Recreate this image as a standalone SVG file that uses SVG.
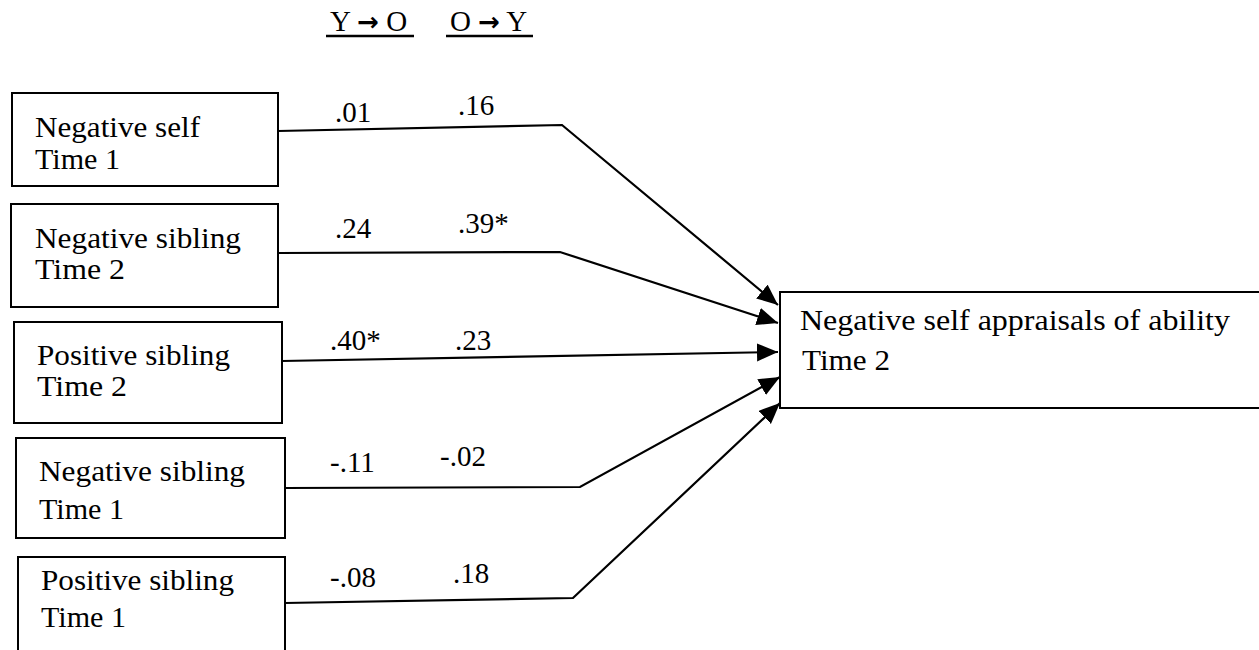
<svg xmlns="http://www.w3.org/2000/svg" width="1259" height="650" viewBox="0 0 1259 650">
<style>
.box{fill:#fff;stroke:#000;stroke-width:2}
.t{font-family:"Liberation Serif","Times New Roman",serif;font-size:29px;fill:#000}
.h{font-family:"Liberation Serif","Times New Roman",serif;font-size:29px;fill:#000;white-space:pre}
.ar{font-family:"DejaVu Sans",sans-serif;font-weight:bold;font-size:26px}
.c{fill:none;stroke:#000;stroke-width:2.2}
</style>
<defs>
<marker id="ah" markerUnits="userSpaceOnUse" markerWidth="24" markerHeight="20" refX="21" refY="9" orient="auto">
<path d="M0,0 L21,9 L0,18 Z" fill="#000"/>
</marker>
</defs>
<rect width="1259" height="650" fill="#fff"/>
<g id="header">
<text class="h" x="330" y="31">Y <tspan class="ar">→</tspan> O</text>
<line x1="326" y1="36" x2="414" y2="36" stroke="#000" stroke-width="2.5"/>
<text class="h" x="450" y="31">O <tspan class="ar">→</tspan> Y</text>
<line x1="446" y1="36" x2="533" y2="36" stroke="#000" stroke-width="2.5"/>
</g>
<g id="n1"><rect class="box" x="12" y="93" width="266" height="93"/><text class="t" x="35" y="137" textLength="165" lengthAdjust="spacingAndGlyphs">Negative self</text><text class="t" x="35" y="169" textLength="85" lengthAdjust="spacingAndGlyphs">Time 1</text></g>
<g id="n2"><rect class="box" x="11" y="204" width="267" height="103"/><text class="t" x="35" y="248" textLength="206" lengthAdjust="spacingAndGlyphs">Negative sibling</text><text class="t" x="35" y="279" textLength="90" lengthAdjust="spacingAndGlyphs">Time 2</text></g>
<g id="n3"><rect class="box" x="14" y="322" width="268" height="101"/><text class="t" x="37" y="365" textLength="193" lengthAdjust="spacingAndGlyphs">Positive sibling</text><text class="t" x="37" y="396" textLength="90" lengthAdjust="spacingAndGlyphs">Time 2</text></g>
<g id="n4"><rect class="box" x="16" y="438" width="269" height="100"/><text class="t" x="39" y="481" textLength="206" lengthAdjust="spacingAndGlyphs">Negative sibling</text><text class="t" x="39" y="519" textLength="85" lengthAdjust="spacingAndGlyphs">Time 1</text></g>
<g id="n5"><rect class="box" x="18" y="557" width="267" height="110"/><text class="t" x="41" y="590" textLength="193" lengthAdjust="spacingAndGlyphs">Positive sibling</text><text class="t" x="41" y="627" textLength="85" lengthAdjust="spacingAndGlyphs">Time 1</text></g>
<g id="target"><rect class="box" x="780" y="292" width="500" height="116"/><text class="t" x="800" y="330" textLength="430" lengthAdjust="spacingAndGlyphs">Negative self appraisals of ability</text><text class="t" x="802" y="370" textLength="88" lengthAdjust="spacingAndGlyphs">Time 2</text></g>
<g id="connectors">
<polyline class="c" points="278,131 562,125 778,305" marker-end="url(#ah)"/>
<polyline class="c" points="278,253 560,252 778,323" marker-end="url(#ah)"/>
<polyline class="c" points="282,361 778,352" marker-end="url(#ah)"/>
<polyline class="c" points="285,488 580,487 780,377" marker-end="url(#ah)"/>
<polyline class="c" points="285,603 573,598 780,403" marker-end="url(#ah)"/>
</g>
<g id="labels">
<text class="t" x="335" y="122">.01</text><text class="t" x="458" y="115">.16</text>
<text class="t" x="335" y="238">.24</text><text class="t" x="458" y="233">.39*</text>
<text class="t" x="330" y="350">.40*</text><text class="t" x="455" y="350">.23</text>
<text class="t" x="330" y="472">-.11</text><text class="t" x="440" y="466">-.02</text>
<text class="t" x="330" y="587">-.08</text><text class="t" x="453" y="583">.18</text>
</g>
</svg>
